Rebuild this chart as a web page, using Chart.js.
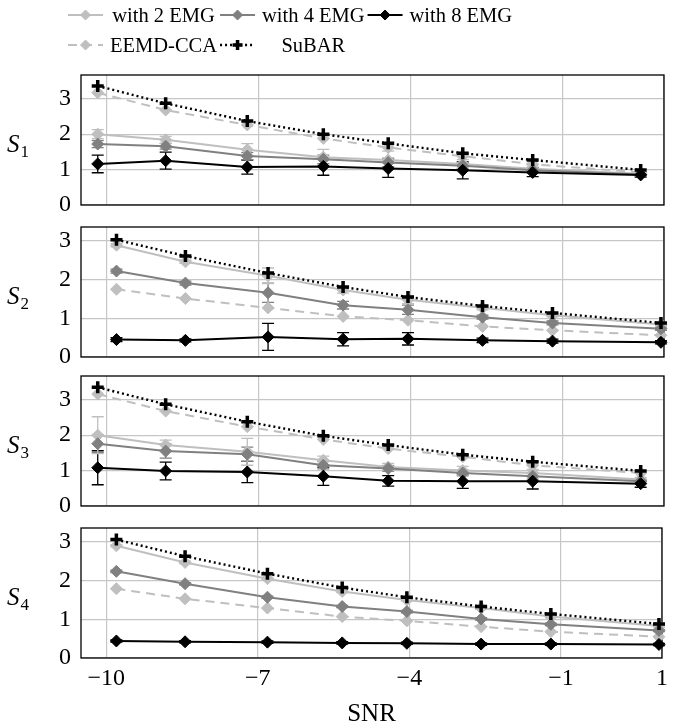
<!DOCTYPE html>
<html>
<head>
<meta charset="utf-8">
<script src="https://cdn.jsdelivr.net/npm/chart.js@4.4.1/dist/chart.umd.min.js"></script>
<style>
  html, body { margin: 0; padding: 0; background: #fff; }
  #wrap { position: relative; width: 674px; height: 727px; }
  #wrap canvas { position: absolute; left: 0; top: 0; }
</style>
</head>
<body>
<div id="wrap">
  <canvas id="s1" width="674" height="727"></canvas>
  <canvas id="s2" width="674" height="727"></canvas>
  <canvas id="s3" width="674" height="727"></canvas>
  <canvas id="s4" width="674" height="727"></canvas>
</div>
<script>
// SNR values (subjects 2 and 4 were run at slightly shifted SNRs)
const snrA = [-10.17, -8.83, -7.22, -5.72, -4.44, -2.97, -1.59, 0.54]
const snrB = [-9.8, -8.44, -6.81, -5.33, -4.05, -2.58, -1.2, 0.94]
const xTicks = [-10, -7, -4, -1, 1]
const yTicks = [0, 1, 2, 3]

// Subject 1
const s1Emg2 = [2.0, 1.84, 1.56, 1.35, 1.27, 1.16, 1.02, 0.88]
const s1Emg4 = [1.72, 1.66, 1.38, 1.29, 1.2, 1.11, 0.98, 0.86]
const s1Emg8 = [1.16, 1.25, 1.07, 1.09, 1.03, 0.98, 0.92, 0.85]
const s1Eemd = [3.17, 2.68, 2.26, 1.88, 1.62, 1.38, 1.15, 0.92]
const s1Subar = [3.36, 2.87, 2.37, 2.0, 1.74, 1.46, 1.27, 0.99]
const s1Emg2Err = [0.13, 0.1, 0.17, 0.22, 0.25, 0.12, 0.08, 0.05]
const s1Emg4Err = [0.1, 0.08, 0.1, 0.12, 0.12, 0.08, 0.06, 0.04]
const s1Emg8Err = [0.25, 0.24, 0.2, 0.25, 0.25, 0.24, 0.12, 0.06]

// Subject 2
const s2Emg2 = [2.89, 2.46, 2.1, 1.73, 1.48, 1.27, 1.08, 0.84]
const s2Emg4 = [2.22, 1.91, 1.66, 1.34, 1.22, 1.03, 0.88, 0.73]
const s2Emg8 = [0.45, 0.43, 0.52, 0.46, 0.47, 0.43, 0.41, 0.38]
const s2Eemd = [1.75, 1.51, 1.27, 1.05, 0.95, 0.79, 0.69, 0.56]
const s2Subar = [3.03, 2.61, 2.17, 1.81, 1.55, 1.32, 1.14, 0.88]
const s2Emg2Err = [0.04, 0.04, 0.2, 0.08, 0.1, 0.05, 0.04, 0.03]
const s2Emg4Err = [0.05, 0.05, 0.25, 0.1, 0.12, 0.05, 0.05, 0.04]
const s2Emg8Err = [0.05, 0.04, 0.35, 0.17, 0.16, 0.06, 0.05, 0.04]

// Subject 3
const s3Emg2 = [2.0, 1.72, 1.53, 1.29, 1.1, 1.0, 0.93, 0.75]
const s3Emg4 = [1.76, 1.55, 1.46, 1.15, 1.06, 0.93, 0.84, 0.7]
const s3Emg8 = [1.08, 0.99, 0.96, 0.84, 0.71, 0.7, 0.7, 0.63]
const s3Eemd = [3.16, 2.68, 2.24, 1.88, 1.62, 1.39, 1.15, 0.93]
const s3Subar = [3.35, 2.87, 2.38, 1.98, 1.72, 1.45, 1.25, 0.99]
const s3Emg2Err = [0.52, 0.14, 0.38, 0.12, 0.1, 0.12, 0.1, 0.06]
const s3Emg4Err = [0.25, 0.2, 0.2, 0.1, 0.08, 0.08, 0.08, 0.05]
const s3Emg8Err = [0.48, 0.25, 0.3, 0.26, 0.15, 0.2, 0.22, 0.1]

// Subject 4
const s4Emg2 = [2.9, 2.47, 2.05, 1.72, 1.5, 1.29, 1.07, 0.83]
const s4Emg4 = [2.24, 1.92, 1.57, 1.33, 1.2, 1.01, 0.87, 0.71]
const s4Emg8 = [0.44, 0.42, 0.41, 0.39, 0.38, 0.36, 0.36, 0.35]
const s4Eemd = [1.79, 1.53, 1.29, 1.07, 0.96, 0.81, 0.68, 0.55]
const s4Subar = [3.06, 2.63, 2.18, 1.82, 1.57, 1.33, 1.14, 0.88]
const s4Emg2Err = [0.03, 0.03, 0.03, 0.03, 0.03, 0.03, 0.03, 0.03]
const s4Emg4Err = [0.03, 0.03, 0.03, 0.03, 0.03, 0.03, 0.03, 0.03]
const s4Emg8Err = [0.03, 0.03, 0.03, 0.03, 0.03, 0.03, 0.03, 0.03]

const SERIF = "'Liberation Serif', 'DejaVu Serif', serif"

const styles = {
  emg2: { label: "with 2 EMG", color: "#bfbfbf", dash: [], point: "rectRot" },
  emg4: { label: "with 4 EMG", color: "#808080", dash: [], point: "rectRot" },
  emg8: { label: "with 8 EMG", color: "#000000", dash: [], point: "rectRot" },
  eemd: { label: "EEMD-CCA", color: "#bfbfbf", dash: [9, 6], point: "rectRot" },
  subar: { label: "SuBAR", color: "#000000", dash: [2, 3], point: "cross" },
}
const legendRows = [["emg2", "emg4", "emg8"], ["eemd", "subar"]]

const panels = [
  { id: "s1", sub: "1", snr: snrA, top: 75, bottom: 205, yMax: 3.67,
    emg2: s1Emg2, emg4: s1Emg4, emg8: s1Emg8, eemd: s1Eemd, subar: s1Subar,
    emg2Err: s1Emg2Err, emg4Err: s1Emg4Err, emg8Err: s1Emg8Err },
  { id: "s2", sub: "2", snr: snrB, top: 227, bottom: 357, yMax: 3.36,
    emg2: s2Emg2, emg4: s2Emg4, emg8: s2Emg8, eemd: s2Eemd, subar: s2Subar,
    emg2Err: s2Emg2Err, emg4Err: s2Emg4Err, emg8Err: s2Emg8Err },
  { id: "s3", sub: "3", snr: snrA, top: 376, bottom: 506, yMax: 3.67,
    emg2: s3Emg2, emg4: s3Emg4, emg8: s3Emg8, eemd: s3Eemd, subar: s3Subar,
    emg2Err: s3Emg2Err, emg4Err: s3Emg4Err, emg8Err: s3Emg8Err },
  { id: "s4", sub: "4", snr: snrB, top: 528, bottom: 658, yMax: 3.36,
    emg2: s4Emg2, emg4: s4Emg4, emg8: s4Emg8, eemd: s4Eemd, subar: s4Subar,
    emg2Err: s4Emg2Err, emg4Err: s4Emg4Err, emg8Err: s4Emg8Err },
]

function makeDataset(key, values, errors, xs) {
  const st = styles[key]
  const isCross = st.point === "cross"
  return {
    label: st.label,
    data: values.map((v, i) => ({ x: xs[i], y: v })),
    errors: errors,
    borderColor: st.color,
    backgroundColor: st.color,
    borderWidth: isCross ? 2.4 : 2,
    borderDash: st.dash,
    pointStyle: st.point,
    pointRadius: isCross ? 6 : 6,
    pointBorderWidth: isCross ? 3.5 : 1,
    pointBackgroundColor: st.color,
    pointBorderColor: st.color,
    tension: 0,
    clip: false,
  }
}

// box around each plot
const framePlugin = {
  id: "frame",
  beforeDatasetsDraw(chart) {
    const { ctx, chartArea: a } = chart
    ctx.save()
    ctx.strokeStyle = "#000"
    ctx.lineWidth = 1.3
    ctx.strokeRect(a.left, a.top, a.right - a.left, a.bottom - a.top)
    ctx.restore()
  },
}

// error bars from dataset.errors
const errorBarPlugin = {
  id: "errorBars",
  beforeDatasetsDraw(chart) {
    const ctx = chart.ctx
    const xs = chart.scales.x
    const ys = chart.scales.y
    chart.data.datasets.forEach((ds) => {
      if (!ds.errors) return
      ctx.save()
      ctx.strokeStyle = ds.borderColor
      ctx.lineWidth = 1.3
      ds.data.forEach((p, i) => {
        const e = ds.errors[i]
        if (!e) return
        const px = xs.getPixelForValue(p.x)
        const y1 = ys.getPixelForValue(p.y + e)
        const y2 = ys.getPixelForValue(p.y - e)
        ctx.beginPath()
        ctx.moveTo(px, y1)
        ctx.lineTo(px, y2)
        ctx.moveTo(px - 6, y1)
        ctx.lineTo(px + 6, y1)
        ctx.moveTo(px - 6, y2)
        ctx.lineTo(px + 6, y2)
        ctx.stroke()
      })
      ctx.restore()
    })
  },
}

// S_n label to the left of each plot
const subjectLabelPlugin = {
  id: "subjectLabel",
  afterDraw(chart, args, opts) {
    const { ctx, chartArea: a } = chart
    const cy = (a.top + a.bottom) / 2
    ctx.save()
    ctx.fillStyle = "#000"
    ctx.textBaseline = "alphabetic"
    ctx.font = "italic 25px " + SERIF
    ctx.fillText("S", 7, cy + 12)
    const w = ctx.measureText("S").width
    ctx.font = "17px " + SERIF
    ctx.fillText(opts.sub, 7 + w + 1, cy + 17)
    ctx.restore()
  },
}

// two-row legend in a column layout, text centred in its column
const legendPlugin = {
  id: "tableLegend",
  afterDraw(chart, args, opts) {
    if (!opts.show) return
    const ctx = chart.ctx
    ctx.save()
    ctx.font = "20.5px " + SERIF
    const sampleW = 35
    const textGap = 7
    const colGap = 3
    const nCols = 3
    const colTextW = []
    for (let c = 0; c < nCols; c++) {
      let w = 0
      legendRows.forEach((row) => {
        if (row[c]) w = Math.max(w, ctx.measureText(styles[row[c]].label).width)
      })
      colTextW.push(w)
    }
    const colX = [68]
    for (let c = 1; c < nCols; c++) {
      colX.push(colX[c - 1] + sampleW + textGap + colTextW[c - 1] + colGap)
    }
    const rowY = [15, 45]
    legendRows.forEach((row, r) => {
      row.forEach((key, c) => {
        const st = styles[key]
        const x0 = colX[c]
        const y = rowY[r]
        ctx.save()
        ctx.strokeStyle = st.color
        ctx.lineWidth = st.point === "cross" ? 2.4 : 2
        ctx.setLineDash(st.dash)
        ctx.beginPath()
        ctx.moveTo(x0, y)
        ctx.lineTo(x0 + sampleW, y)
        ctx.stroke()
        ctx.setLineDash([])
        ctx.fillStyle = st.color
        const isCross = st.point === "cross"
        ctx.lineWidth = isCross ? 3.5 : 1
        Chart.helpers.drawPoint(ctx, { pointStyle: st.point, radius: isCross ? 5 : 5, borderWidth: isCross ? 3.5 : 1, rotation: 0 }, x0 + sampleW / 2, y)
        ctx.restore()
        ctx.fillStyle = "#000"
        ctx.textBaseline = "alphabetic"
        const tw = ctx.measureText(st.label).width
        ctx.fillText(st.label, x0 + sampleW + textGap + (colTextW[c] - tw) / 2, y + 7)
      })
    })
    ctx.restore()
  },
}

const tickFont = { family: SERIF, size: 24 }

panels.forEach((p, idx) => {
  const isLast = idx === panels.length - 1
  // drawing order: first dataset ends up on top
  const datasets = [
    makeDataset("subar", p.subar, null, p.snr),
    makeDataset("emg8", p.emg8, p.emg8Err, p.snr),
    makeDataset("emg4", p.emg4, p.emg4Err, p.snr),
    makeDataset("eemd", p.eemd, null, p.snr),
    makeDataset("emg2", p.emg2, p.emg2Err, p.snr),
  ]
  new Chart(document.getElementById(p.id), {
    type: "line",
    data: { datasets },
    options: {
      responsive: false,
      animation: false,
      devicePixelRatio: 1,
      layout: { padding: { top: p.top, right: 10, left: 0, bottom: 0 } },
      plugins: {
        legend: { display: false },
        tooltip: { enabled: false },
        subjectLabel: { sub: p.sub },
        tableLegend: { show: idx === 0 },
      },
      scales: {
        x: {
          type: "linear",
          min: -10.5,
          max: 1,
          afterBuildTicks: (s) => { s.ticks = xTicks.map((v) => ({ value: v })) },
          afterFit: (s) => { s.height = 727 - p.bottom },
          grid: { color: "#c6c6c6", lineWidth: 1.2, drawTicks: false },
          border: { display: false },
          ticks: {
            display: isLast,
            autoSkip: false,
            maxRotation: 0,
            padding: 6,
            color: "#000",
            font: tickFont,
            callback: (v) => (v < 0 ? "\u2212" + Math.abs(v) : String(v)),
          },
          title: {
            display: isLast,
            text: "SNR",
            color: "#000",
            font: { family: SERIF, size: 25, lineHeight: 1 },
            padding: { top: 0, bottom: 0 },
          },
        },
        y: {
          min: 0,
          max: p.yMax,
          afterBuildTicks: (s) => { s.ticks = yTicks.map((v) => ({ value: v })) },
          afterFit: (s) => { s.width = 81 },
          grid: { color: "#c6c6c6", lineWidth: 1.2, drawTicks: false },
          border: { display: false },
          ticks: { padding: 10, color: "#000", font: tickFont, callback: (v) => String(v) },
        },
      },
    },
    plugins: [framePlugin, errorBarPlugin, subjectLabelPlugin, legendPlugin],
  })
})
</script>
</body>
</html>
